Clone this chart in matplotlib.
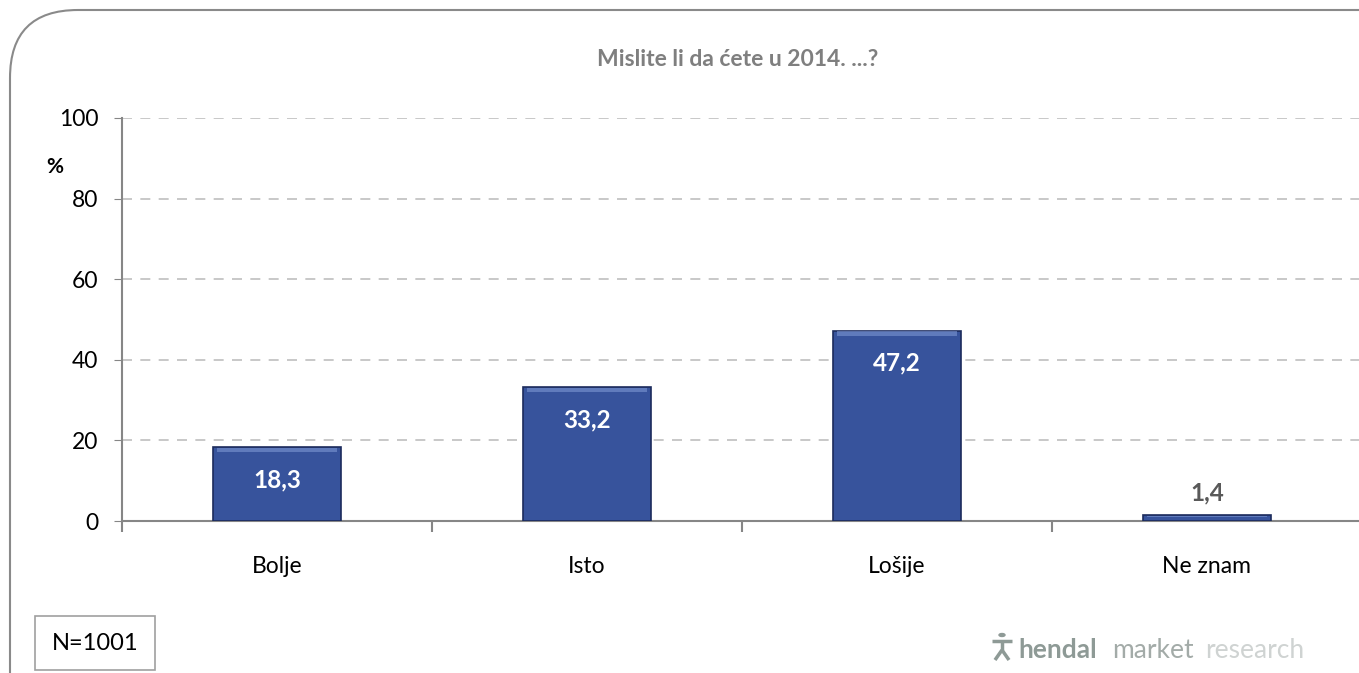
import numpy as np
import matplotlib.pyplot as plt
from matplotlib.patches import FancyBboxPatch, Rectangle
from matplotlib.lines import Line2D

categories = ['Bolje', 'Isto', 'Lošije', 'Ne znam']
values = [18.3, 33.2, 47.2, 1.4]
labels = ['18,3', '33,2', '47,2', '1,4']
yticks = [0, 20, 40, 60, 80, 100]

plt.rcParams['font.family'] = ['Lato', 'DejaVu Sans']

fig = plt.figure(figsize=(13.59, 6.73), dpi=100)
W, H = 1359, 673

# rounded frame
frame = FancyBboxPatch((10 / W, -0.2), 1.2, 0.2 + (673 - 10) / H,
                       boxstyle='round,pad=0,rounding_size=0.05',
                       transform=fig.transFigure, fc='white', ec='#8a8a8a', lw=1.5,
                       mutation_aspect=W / H, zorder=-10)
fig.patches.append(frame)

ax = fig.add_axes([122 / W, 1 - 521 / H, (1362 - 122) / W, (521 - 118) / H])
ax.set_facecolor('none')
ax.set_zorder(2)
x = np.arange(len(categories))
bars = ax.bar(x, values, width=0.41, color='#37539c', edgecolor='#1c2b5c', lw=1.2, zorder=3)
# lighter bevel strip on top of each bar
for xi, v in zip(x, values):
    h = min(1.2, v * 0.3)
    ax.add_patch(Rectangle((xi - 0.195, v - h - 0.1), 0.39, h,
                           fc='#7d96d2', ec='none', alpha=0.6, zorder=4))

for xi, v, lab in zip(x, values, labels):
    if v > 10:
        ax.text(xi, v - 8, lab, ha='center', va='center', color='white',
                fontsize=17.5, fontweight='bold', zorder=5)
    else:
        ax.text(xi, v + 5.5, lab, ha='center', va='center', color='#595959',
                fontsize=17.5, fontweight='bold', zorder=5)

ax.set_xlim(-0.5, len(categories) - 0.5)
ax.set_ylim(0, 100)
ax.set_yticks(yticks)
ax.tick_params(axis='y', labelsize=16.5, length=6, color='#868686', pad=11)
ax.set_xticks(x)
ax.set_xticklabels(categories, fontsize=16.5)
ax.tick_params(axis='x', length=0, pad=25)
ax.set_xticks(np.arange(-0.5, len(categories), 1), minor=True)
ax.tick_params(axis='x', which='minor', length=8, color='#868686', width=1.5)
ax.grid(axis='y', ls=(0, (6, 5)), color='#bfbfbf', lw=1.2, zorder=0)
for s in ['top', 'right']:
    ax.spines[s].set_visible(False)
for s in ['left', 'bottom']:
    ax.spines[s].set_color('#868686')
    ax.spines[s].set_linewidth(1.5)

fig.text(738 / W, 1 - 60 / H, 'Mislite li da ćete u 2014. ...?', ha='center', va='center',
         fontsize=16.5, fontweight='bold', color='#7f7f7f')
fig.text(55 / W, 1 - 167 / H, '%', ha='center', va='center', fontsize=15, fontweight='bold')

fig.text(95 / W, 1 - 643 / H, 'N=1001', ha='center', va='center', fontsize=17,
         bbox=dict(boxstyle='square,pad=0.7', fc='white', ec='#a0a0a0', lw=1.2))

# logo
fig.text(1018 / W, 1 - 650 / H, 'hendal', ha='left', va='center', fontsize=19,
         fontweight='bold', color='#8e9a96')
fig.text(1112 / W, 1 - 650 / H, 'market', ha='left', va='center', fontsize=19,
         color='#a3aba8')
fig.text(1205 / W, 1 - 650 / H, 'research', ha='left', va='center', fontsize=19,
         color='#cfd3d2')
icon = dict(color='#8e9a96', lw=2.5, solid_capstyle='butt', transform=fig.transFigure)
fig.lines.append(Line2D([992 / W, 1012 / W], [1 - 641 / H, 1 - 641 / H], **icon))
fig.lines.append(Line2D([1002 / W, 1002 / W], [1 - 641 / H, 1 - 650 / H], **icon))
fig.lines.append(Line2D([1002 / W, 995 / W], [1 - 650 / H, 1 - 660 / H], **icon))
fig.lines.append(Line2D([1002 / W, 1009 / W], [1 - 650 / H, 1 - 660 / H], **icon))
fig.patches.append(plt.Circle((1002 / W, 1 - 635 / H), 3 / W, transform=fig.transFigure,
                              color='#8e9a96'))

fig.savefig('out.png', dpi=100)
